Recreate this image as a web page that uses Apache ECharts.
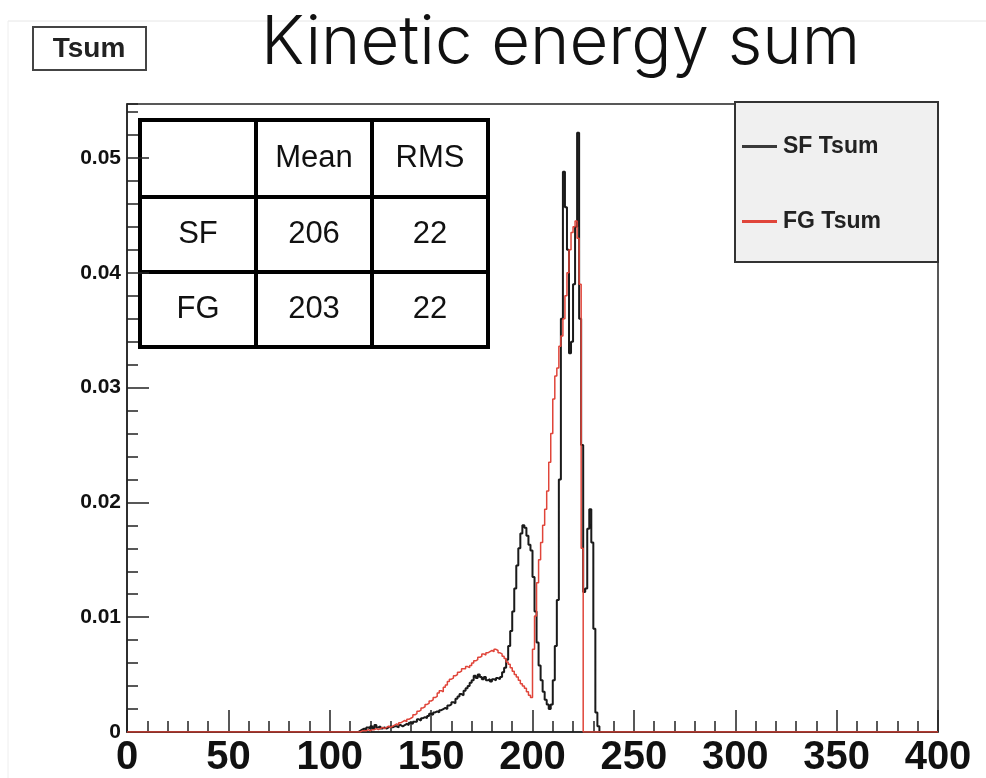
<!DOCTYPE html>
<html>
<head>
<meta charset="utf-8">
<script src="https://cdn.jsdelivr.net/npm/echarts@6/dist/echarts.min.js"></script>
<style>html,body{margin:0;padding:0;background:#fff}#c{width:986px;height:778px}</style>
</head>
<body>
<div id="c"></div>
<script>
// ---- data ----
const titleText = 'Kinetic energy sum';
const histName = 'Tsum';
const seriesNames = ['SF Tsum', 'FG Tsum'];
const binStart = 110;   // left edge of first listed bin
const binWidth = 1;
const xMin = 0, xMax = 400;
// SF (black) bin contents, bins 110..235
const sfCounts = [
  0, 0, 0, 0, 0.0001, 0.0002, 0.0003, 0.0002, 0.0004, 0.0003,
  0.0005, 0.0003, 0.0006, 0.0004, 0.0005, 0.0003, 0.0004, 0.0003, 0.0004, 0.0005,
  0.0004, 0.0005, 0.0005, 0.0004, 0.0006, 0.0005, 0.0006, 0.0007, 0.0006, 0.0008,
  0.0007, 0.0009, 0.0009, 0.0011, 0.0010, 0.0012, 0.0013, 0.0012, 0.0014, 0.0016,
  0.0015, 0.0017, 0.0018, 0.0017, 0.0019, 0.0020, 0.0021, 0.0020, 0.0023, 0.0024,
  0.0026, 0.0025, 0.0029, 0.0031, 0.0033, 0.0032, 0.0036, 0.0038, 0.0040, 0.0043,
  0.0045, 0.0049, 0.0047, 0.0050, 0.0048, 0.0046, 0.0048, 0.0045, 0.0046, 0.0044,
  0.0046, 0.0045, 0.0047, 0.0046, 0.0048, 0.0052, 0.0056, 0.0063, 0.0075, 0.0088,
  0.0105, 0.0125, 0.0145, 0.0160, 0.0173, 0.0180, 0.0178, 0.0171, 0.0163, 0.0158,
  0.0135, 0.0105, 0.0078, 0.0058, 0.0045, 0.0035, 0.0028, 0.0024, 0.0020, 0.0024,
  0.0045, 0.0075, 0.0115, 0.0220, 0.0360, 0.0488, 0.0457, 0.0420, 0.0330, 0.0340,
  0.0390, 0.0440, 0.0522, 0.0360, 0.0250, 0.0122, 0.0125, 0.0177, 0.0194, 0.0165,
  0.0090, 0.0017, 0.0005, 0, 0, 0
];
// FG (red) bin contents, bins 110..235
const fgCounts = [
  0, 0, 0, 0, 0, 0.0001, 0.0001, 0.0001, 0.0002, 0.0001,
  0.0002, 0.0002, 0.0003, 0.0002, 0.0003, 0.0004, 0.0003, 0.0004, 0.0005, 0.0004,
  0.0005, 0.0006, 0.0007, 0.0006, 0.0008, 0.0009, 0.0010, 0.0009, 0.0011, 0.0012,
  0.0013, 0.0015, 0.0016, 0.0018, 0.0019, 0.0021, 0.0022, 0.0024, 0.0025, 0.0027,
  0.0028, 0.0030, 0.0031, 0.0034, 0.0036, 0.0035, 0.0039, 0.0041, 0.0044, 0.0046,
  0.0047, 0.0049, 0.0050, 0.0052, 0.0053, 0.0055, 0.0055, 0.0057, 0.0056, 0.0058,
  0.0060, 0.0062, 0.0063, 0.0065, 0.0066, 0.0068, 0.0067, 0.0069, 0.0070, 0.0071,
  0.0070, 0.0072, 0.0071, 0.0069, 0.0068, 0.0066, 0.0064, 0.0061, 0.0059, 0.0056,
  0.0053, 0.0050, 0.0048, 0.0045, 0.0042, 0.0040, 0.0038, 0.0035, 0.0032, 0.0030,
  0.0072, 0.0101, 0.0130, 0.0150, 0.0165, 0.0180, 0.0194, 0.0210, 0.0235, 0.0260,
  0.0290, 0.0310, 0.0317, 0.0336, 0.0345, 0.0360, 0.0380, 0.0400, 0.0420, 0.0435,
  0.0440, 0.0445, 0.0430, 0.0390, 0.0160, 0, 0, 0, 0, 0,
  0, 0, 0, 0, 0, 0
];
const yMax = 0.0547;
const tableHeader = ['', 'Mean', 'RMS'];
const tableRows = [['SF', '206', '22'], ['FG', '203', '22']];

// ---- build step data ----
function histData(counts) {
  const d = [[xMin, 0]];
  counts.forEach((v, i) => d.push([binStart + i * binWidth, v]));
  d.push([binStart + counts.length * binWidth, 0]);
  d.push([xMax, 0]);
  return d;
}

// ---- table graphic ----
const tX = 140, tY = 120, colW = [116, 116, 116], rowH = [77, 75, 75];
const tableEls = [];
const allRows = [tableHeader].concat(tableRows);
let yy = tY;
allRows.forEach((row, r) => {
  let xx = tX;
  row.forEach((cell, c) => {
    tableEls.push({type: 'rect', shape: {x: xx, y: yy, width: colW[c], height: rowH[r]},
      style: {fill: '#fff', stroke: '#000', lineWidth: 4}});
    tableEls.push({type: 'text', x: xx + colW[c] / 2, y: yy + rowH[r] / 2,
      style: {text: cell, fill: '#111', font: '31px "Liberation Sans", Arial, sans-serif',
        textAlign: 'center', textVerticalAlign: 'middle'}});
    xx += colW[c];
  });
  yy += rowH[r];
});

const chart = echarts.init(document.getElementById('c'), null, {renderer: 'canvas'});
const axisColor = '#222';
const lab = '"Liberation Sans", Arial, sans-serif';
chart.setOption({
  animation: false,
  backgroundColor: '#fff',
  title: {
    text: titleText, left: 256, top: 5,
    textStyle: {fontSize: 67, fontWeight: 300, fontFamily: 'Inter, "Liberation Sans", sans-serif', color: '#111'}
  },
  grid: {left: 127, top: 104, width: 811, height: 629, show: true, borderColor: axisColor, borderWidth: 1.5, backgroundColor: '#fff'},
  legend: {
    data: seriesNames, orient: 'vertical', left: 737, top: 130, itemGap: 52,
    itemWidth: 35, itemHeight: 3, icon: 'rect',
    textStyle: {fontSize: 23, fontWeight: 'bold', fontFamily: lab, color: '#222', padding: [0, 0, 0, 1]},
    z: 10
  },
  graphic: [
    {type: 'line', shape: {x1: 8, y1: 21, x2: 986, y2: 21}, style: {stroke: '#e6e6e6', lineWidth: 1}, z: -1},
    {type: 'line', shape: {x1: 8, y1: 21, x2: 8, y2: 778}, style: {stroke: '#eeeeee', lineWidth: 1}, z: -1},
    {type: 'rect', shape: {x: 33, y: 27, width: 113, height: 43}, style: {fill: '#fff', stroke: '#444', lineWidth: 2}, z: 5},
    {type: 'text', x: 89, y: 49, z: 6, style: {text: histName, fill: '#222', font: 'bold 28px ' + lab, textAlign: 'center', textVerticalAlign: 'middle'}},
    {type: 'rect', shape: {x: 735, y: 102, width: 203, height: 160}, style: {fill: '#f0f0f0', stroke: '#333', lineWidth: 2}, z: 5},
    {type: 'group', z: 8, children: tableEls}
  ],
  xAxis: [{
    type: 'value', min: xMin, max: xMax, interval: 50,
    axisLine: {show: true, onZero: false, lineStyle: {color: axisColor, width: 1.5}},
    axisTick: {show: true, inside: true, length: 22, lineStyle: {color: axisColor, width: 1.5}},
    minorTick: {show: true, splitNumber: 5, length: 11, lineStyle: {color: axisColor, width: 1.5}},
    splitLine: {show: false},
    axisLabel: {fontSize: 40, fontWeight: 'bold', fontFamily: lab, color: '#111', margin: 6}
  }],
  yAxis: [{
    type: 'value', min: 0, max: yMax, interval: 0.01,
    axisLine: {show: true, onZero: false, lineStyle: {color: axisColor, width: 1.5}},
    axisTick: {show: true, inside: true, length: 22, lineStyle: {color: axisColor, width: 1.5}},
    splitLine: {show: false},
    axisLabel: {fontSize: 21, fontWeight: 'bold', fontFamily: lab, color: '#111', margin: 6,
      showMaxLabel: false, formatter: v => (v === 0 ? '0' : v.toFixed(2))}
  }, {
    type: 'value', min: 0, max: yMax, interval: 0.002, position: 'left',
    axisLine: {show: false},
    axisTick: {show: true, inside: true, length: 11, lineStyle: {color: axisColor, width: 1.5}},
    splitLine: {show: false},
    axisLabel: {show: false}
  }],
  series: [{
    name: seriesNames[0], type: 'line', step: 'end', symbol: 'none', data: histData(sfCounts),
    lineStyle: {color: '#1a1a1a', width: 2}, itemStyle: {color: '#3a3a3a'}, z: 3
  }, {
    name: seriesNames[1], type: 'line', step: 'end', symbol: 'none', data: histData(fgCounts),
    lineStyle: {color: '#e0453a', width: 1.5}, itemStyle: {color: '#e0453a'}, z: 4
  }]
});
</script>
</body>
</html>
